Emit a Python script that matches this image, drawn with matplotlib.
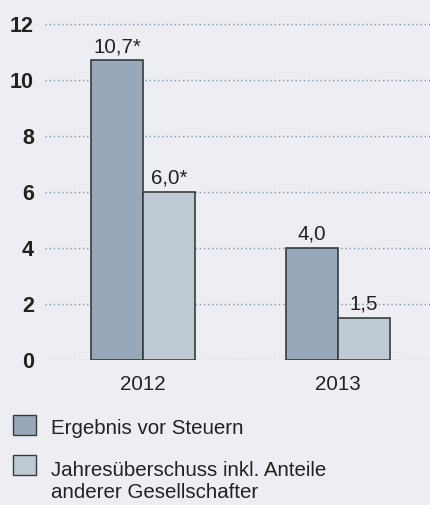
import matplotlib.pyplot as plt
import numpy as np
from matplotlib.patches import Patch, Rectangle
from matplotlib.legend_handler import HandlerPatch

plt.rcParams["font.family"] = ["Liberation Sans", "DejaVu Sans"]

years = ["2012", "2013"]
ergebnis = [10.7, 4.0]
ueberschuss = [6.0, 1.5]
labels_ergebnis = ["10,7*", "4,0"]
labels_ueberschuss = ["6,0*", "1,5"]
series_names = ["Ergebnis vor Steuern", "Jahresüberschuss inkl. Anteile\nanderer Gesellschafter"]
yticks = [0, 2, 4, 6, 8, 10, 12]

bg = "#eceef3"
c_dark = "#96a8b9"
c_light = "#bfcad5"
edge = "#3a3a3a"

W, H = 431, 505
fig = plt.figure(figsize=(W / 100, H / 100), dpi=100, facecolor=bg)
ax = fig.add_axes([45 / W, 1 - 360 / H, 1 - 45 / W, 350 / H])
ax.set_facecolor(bg)

x = np.arange(len(years))
w = 52 / 195
b1 = ax.bar(x - w / 2, ergebnis, w, color=c_dark, edgecolor=edge, linewidth=1.2, zorder=3)
b2 = ax.bar(x + w / 2, ueberschuss, w, color=c_light, edgecolor=edge, linewidth=1.2, zorder=3)

for bars, labs in ((b1, labels_ergebnis), (b2, labels_ueberschuss)):
    for rect, lab in zip(bars, labs):
        ax.annotate(lab, (rect.get_x() + rect.get_width() / 2, rect.get_height()),
                    xytext=(0, 3), textcoords="offset points", ha="center", va="bottom",
                    fontsize=14.8, color="#222222", zorder=4)

ax.set_xlim(-98 / 195, 288 / 195)
ax.set_ylim(0, 12.5)
ax.set_yticks(yticks)
ax.set_yticklabels([str(t) for t in yticks], fontsize=15.5, fontweight="bold", color="#222222")
ax.set_xticks(x)
ax.set_xticklabels(years, fontsize=14.8, color="#222222")
ax.tick_params(axis="y", length=0, pad=8)
ax.tick_params(axis="x", length=0, pad=10.5)
ax.yaxis.grid(True, linestyle=(0, (1, 2)), color="#7f90a8", linewidth=1.0, zorder=0)
for s in ax.spines.values():
    s.set_visible(False)


# legend squares sit next to the first text line
def top_square(shift):
    def make(legend, orig_handle, xdescent, ydescent, width, height, fontsize):
        return Rectangle((-xdescent, -ydescent + shift), width, height)
    return HandlerPatch(patch_func=make)


handles = [Patch(facecolor=c_dark, edgecolor=edge, linewidth=1.0),
           Patch(facecolor=c_light, edgecolor=edge, linewidth=1.0)]
leg = fig.legend(handles, series_names, loc="upper left", bbox_to_anchor=(13 / W, 1 - 417 / H),
                 frameon=False, fontsize=14.8, handlelength=1.12, handleheight=1.12,
                 handletextpad=0.75, labelspacing=1.1, borderaxespad=0, borderpad=0,
                 labelcolor="#222222",
                 handler_map={handles[0]: top_square(1.5), handles[1]: top_square(11.9)})

fig.savefig("out.png", dpi=100, facecolor=bg)
